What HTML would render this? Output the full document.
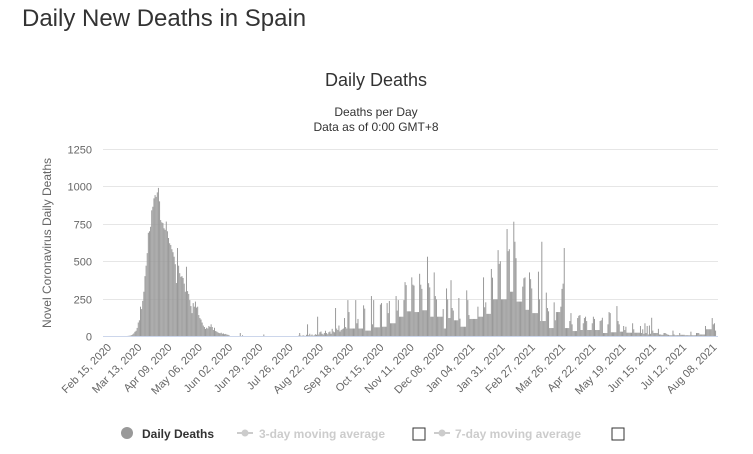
<!DOCTYPE html>
<html><head><meta charset="utf-8">
<style>
html,body{margin:0;padding:0;background:#fff;width:753px;height:454px;overflow:hidden;font-family:"Liberation Sans",sans-serif;}
#page-title{position:absolute;left:22px;top:5px;font-size:24px;color:#333;margin:0;font-weight:normal;}
svg{position:absolute;left:0;top:0;}
</style></head>
<body>
<h1 id="page-title">Daily New Deaths in Spain</h1>
<svg id="chart" width="753" height="454">
  <text x="376" y="86" text-anchor="middle" font-size="18" fill="#333">Daily Deaths</text>
  <text x="376" y="116" text-anchor="middle" font-size="12" fill="#333">Deaths per Day</text>
  <text x="376" y="131" text-anchor="middle" font-size="12" fill="#333">Data as of 0:00 GMT+8</text>
  <text transform="translate(51,243) rotate(-90)" text-anchor="middle" font-size="12" fill="#666">Novel Coronavirus Daily Deaths</text>
  <g id="grid"></g><g id="bars"></g><g id="xlabels"></g>
  <g>
    <g>
      <circle cx="127" cy="433" r="6" fill="#999"/>
      <text x="142" y="438" font-size="12" font-weight="bold" fill="#333">Daily Deaths</text>
    </g>
    <g>
      <line x1="237" y1="433" x2="253" y2="433" stroke="#ccc" stroke-width="2"/>
      <circle cx="245" cy="433" r="3.5" fill="#ccc"/>
      <text x="259" y="438" font-size="12" font-weight="bold" fill="#ccc">3-day moving average</text>
    </g>
    <rect x="413" y="428" width="12" height="12" fill="#fff" stroke="#333"/>
    <g>
      <line x1="434" y1="433" x2="450" y2="433" stroke="#ccc" stroke-width="2"/>
      <circle cx="442" cy="433" r="3.5" fill="#ccc"/>
      <text x="455" y="438" font-size="12" font-weight="bold" fill="#ccc">7-day moving average</text>
    </g>
    <rect x="612" y="428" width="12" height="12" fill="#fff" stroke="#333"/>
  </g>
</svg>
<script>
const yTicks = [0, 250, 500, 750, 1000, 1250];
const xTickLabels = ["Feb 15, 2020","Mar 13, 2020","Apr 09, 2020","May 06, 2020","Jun 02, 2020","Jun 29, 2020","Jul 26, 2020","Aug 22, 2020","Sep 18, 2020","Oct 15, 2020","Nov 11, 2020","Dec 08, 2020","Jan 04, 2021","Jan 31, 2021","Feb 27, 2021","Mar 26, 2021","Apr 22, 2021","May 19, 2021","Jun 15, 2021","Jul 12, 2021","Aug 08, 2021"];
const xTickDays = [0,27,54,81,108,135,162,189,216,243,270,297,324,351,378,405,432,459,486,513,540];
const dailyDeaths = [
0,0,0,0,0,0,0,0,0,0,0,0,0,0,0,0,0,0,
1,2,3,5,10,17,28,35,54,90,105,196,
180,235,296,400,470,554,690,700,730,840,864,920,942,930,960,990,900,
775,760,755,720,710,765,700,655,620,608,580,560,530,480,
354,588,470,420,396,400,388,350,296,463,300,281,240,200,153,220,196,230,190,196,
140,120,110,90,70,60,47,55,50,67,60,78,60,40,55,33,30,25,20,18,22,15,17,12,14,10,8,5,
0,0,0,0,0,0,0,0,0,20,0,5,0,0,0,0,0,0,0,0,0,0,0,0,0,0,0,0,0,0,10,0,0,0,0,0,0,0,0,0,0,0,0,0,0,0,0,0,0,0,0,0,0,0,0,0,0,0,0,0,0,
2,20,3,0,5,2,0,8,78,5,15,3,10,2,5,12,8,129,
10,25,30,15,10,20,35,20,12,25,30,15,
48,30,25,187,50,40,70,30,40,45,50,120,60,50,
240,160,50,50,50,50,50,240,85,114,50,50,50,50,205,183,36,36,36,36,36,267,78,240,58,58,58,58,58,
210,220,62,62,62,62,220,153,234,85,85,85,85,85,267,170,240,129,129,129,129,
240,360,340,165,165,165,165,392,343,337,160,160,160,160,416,343,315,172,172,172,172,
530,353,325,129,129,129,425,267,245,129,129,129,129,129,180,50,50,318,245,120,120,
373,187,170,105,105,105,105,254,116,62,62,62,62,62,305,240,140,114,114,114,114,114,114,114,
196,129,129,129,129,392,192,225,148,148,148,148,448,390,245,245,245,245,
574,482,500,245,245,245,245,245,715,567,580,296,296,296,764,630,520,230,230,230,230,230,
330,386,392,175,175,175,425,380,318,153,153,153,153,153,430,245,100,630,100,100,100,
290,187,165,53,53,53,53,225,105,160,160,160,160,196,315,350,588,53,53,53,53,
100,153,78,33,33,33,33,120,135,140,40,40,85,120,129,100,40,40,40,40,85,129,114,40,40,40,40,
100,105,122,20,20,20,20,78,160,153,25,25,25,25,25,200,100,78,29,29,29,67,40,62,22,22,22,22,22,
85,45,22,22,22,22,22,67,20,45,15,85,20,67,10,70,15,122,36,20,20,20,20,48,10,10,8,8,
20,20,15,10,8,5,5,5,36,10,5,5,5,5,20,8,8,8,8,5,5,5,5,5,29,5,5,5,5,20,20,20,10,10,10,10,10,
67,45,45,45,45,45,120,78,85,36
];
const NS='http://www.w3.org/2000/svg';
const X0=108, PX_PER_DAY=1.121, PLOT_L=103, PLOT_R=718, Y0=336, YTOP=149, YMAX=1250;
function xScale(d){return X0 + d*PX_PER_DAY;}
function yScale(v){return Y0 - v/YMAX*(Y0-YTOP);}
const grid=document.getElementById('grid');
yTicks.forEach(t=>{
  const y=Math.round(yScale(t))+0.5;
  const ln=document.createElementNS(NS,'line');
  ln.setAttribute('x1',PLOT_L);ln.setAttribute('x2',PLOT_R);ln.setAttribute('y1',y);ln.setAttribute('y2',y);
  ln.setAttribute('stroke',t===0?'#ccd6eb':'#e6e6e6');ln.setAttribute('stroke-width','1');
  
  
  grid.appendChild(ln);
  const tx=document.createElementNS(NS,'text');
  tx.setAttribute('x',92);tx.setAttribute('y',y+4);tx.setAttribute('text-anchor','end');
  tx.setAttribute('font-size','11');tx.setAttribute('fill','#666');tx.textContent=t;
  
  
  grid.appendChild(tx);
});
const bars=document.getElementById('bars');
dailyDeaths.forEach((v,i)=>{
  if(v<=0) return;
  const r=document.createElementNS(NS,'rect');
  const x=xScale(i)-0.5, y=yScale(v);
  r.setAttribute('x',x.toFixed(2));r.setAttribute('y',y.toFixed(2));
  r.setAttribute('width',(PX_PER_DAY*0.88).toFixed(2));r.setAttribute('height',(Y0-y).toFixed(2));
  r.setAttribute('fill','#999');
  
  
  bars.appendChild(r);
});
const xl=document.getElementById('xlabels');
xTickLabels.forEach((lab,i)=>{
  const x=xScale(xTickDays[i]);
  const tx=document.createElementNS(NS,'text');
  tx.setAttribute('transform','translate('+(x+4).toFixed(1)+',348) rotate(-45)');
  tx.setAttribute('text-anchor','end');tx.setAttribute('font-size','11');tx.setAttribute('fill','#666');
  tx.textContent=lab;
  
  
  xl.appendChild(tx);
});
</script>
</body></html>
